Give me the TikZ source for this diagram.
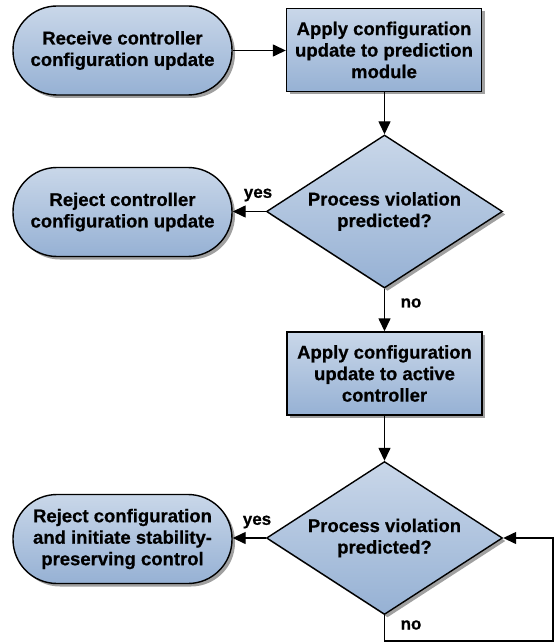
\documentclass[tikz,border=0pt]{standalone}
\usepackage{fontspec}
\setmainfont{Liberation Sans}[BoldFeatures={FakeBold=0.6}]
\usetikzlibrary{shapes.geometric,shadows,arrows.meta,calc}

\definecolor{fillTop}{RGB}{201,215,233}
\definecolor{fillBot}{RGB}{150,177,212}
\definecolor{shadowGray}{RGB}{150,150,150}

\tikzset{
  base/.style={draw=black, line width=1.4pt, top color=fillTop, bottom color=fillBot,
    align=center, inner sep=0pt,
    font=\bfseries\fontsize{18.5}{21.5}\selectfont,
    drop shadow={shadow xshift=3pt, shadow yshift=-3pt, fill=shadowGray, opacity=0.9}},
  terminal/.style={base, rectangle, rounded corners=44pt,
    minimum width=219pt, minimum height=89pt},
  process/.style={base, rectangle, minimum width=195pt, minimum height=83pt},
  decision/.style={base, diamond, aspect=1.54, minimum width=236pt, minimum height=153pt},
  flow/.style={draw=black, line width=1.4pt, -{Triangle[length=13pt,width=12pt]}},
  lbl/.style={font=\bfseries\fontsize{17}{19}\selectfont, inner sep=0pt}
}

\begin{document}
\begin{tikzpicture}[x=1pt, y=-1pt]
  \path[use as bounding box] (0,0) rectangle (555,644);

  % nodes
  \node[terminal] (start) at (122.5,50.5) {Receive controller\\configuration update};
  \node[process]  (apply1) at (384,50) {Apply configuration\\update to prediction\\module};
  \node[decision] (dec1) at (384.5,211.5) {Process violation\\predicted?};
  \node[terminal] (rej1) at (122.5,212) {Reject controller\\configuration update};
  \node[process]  (apply2) at (384.5,373.5) {Apply configuration\\update to active\\controller};
  \node[decision] (dec2) at (384.5,538) {Process violation\\predicted?};
  \node[terminal] (rej2) at (122.5,539) {Reject configuration\\and initiate stability-\\preserving control};

  % connectors
  \draw[flow] (start.east) -- (start.east -| apply1.west);
  \draw[flow] (apply1.south -| dec1.north) -- (dec1.north);
  \draw[flow] (dec1.west) -- (dec1.west -| rej1.east);
  \draw[flow] (dec1.south) -- (apply2.north -| dec1.south);
  \draw[flow] (apply2.south -| dec2.north) -- (dec2.north);
  \draw[flow] (dec2.west) -- (dec2.west -| rej2.east);
  \coordinate (loopc) at (553,641);
  \draw[flow] (dec2.south) |- (loopc) |- (dec2.east);

  % branch labels
  \node[lbl] (y1) at (258,195) {yes};
  \node[lbl] (n1) at (411,303) {no};
  \node[lbl] (y2) at (257,522) {yes};
  \node[lbl] (n2) at (411,625) {no};
\end{tikzpicture}
\end{document}
